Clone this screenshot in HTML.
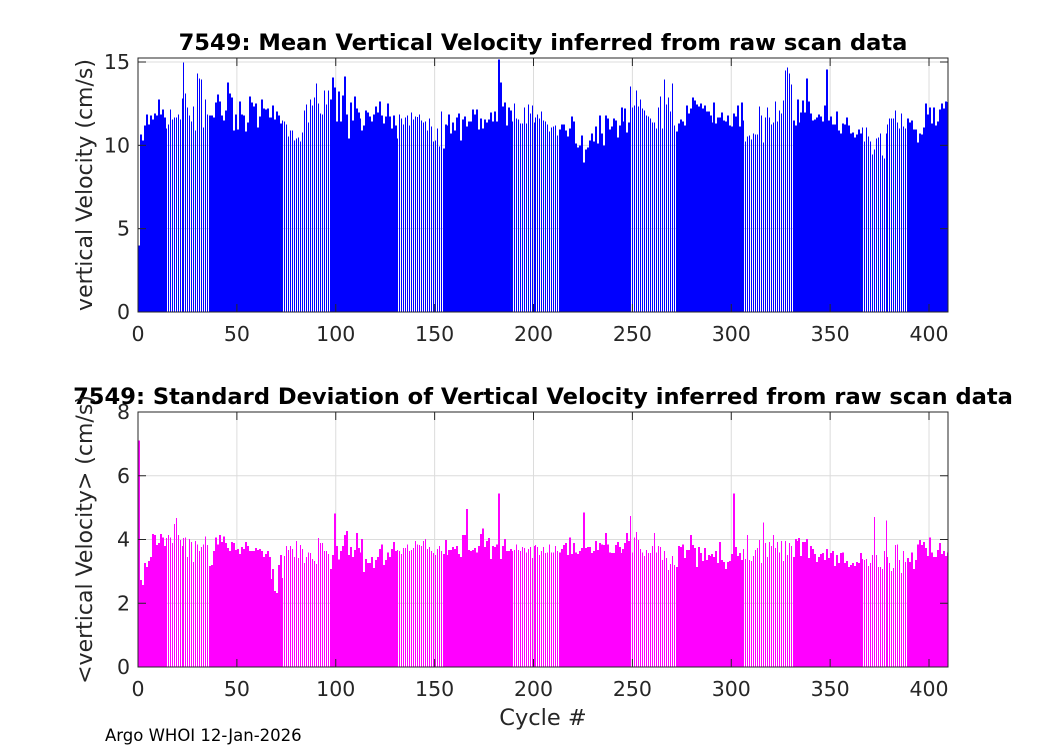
<!DOCTYPE html>
<html><head><meta charset="utf-8"><style>
body{margin:0;background:#fff;}
svg{display:block;font-family:"DejaVu Sans","Liberation Sans",sans-serif;}
</style></head><body>
<svg id="chart" width="1050" height="750" xmlns="http://www.w3.org/2000/svg">
<rect width="1050" height="750" fill="#fff"/>
<g id="top"></g>
<g id="bot"></g>
<text x="105" y="741" font-size="16.5" fill="#000">Argo WHOI 12-Jan-2026</text>
</svg>
<script>
const meanVel = [4.0,
10.66,10.3,11.2,11.86,11.26,11.8,11.56,11.92,11.8,12.76,
11.86,12.16,11.68,11.02,11.26,12.16,11.56,11.68,11.68,11.86,
11.56,12.82,14.98,13.12,12.28,11.8,11.44,12.34,10.9,14.32,
14.02,13.96,11.08,12.76,11.86,11.8,11.8,11.68,12.58,13.06,
12.64,11.8,11.5,12.1,13.78,13.12,12.88,10.9,11.86,10.96,
12.64,11.86,11.8,10.84,11.38,12.94,12.58,12.34,12.52,11.08,
11.74,12.76,12.22,12.16,12.22,11.68,11.68,12.4,11.56,12.04,
11.8,11.32,11.5,11.44,11.26,10.54,10.9,10.9,10.3,10.42,
10.48,10.24,10.78,12.1,12.46,11.38,12.76,12.4,12.88,13.72,
12.52,11.92,11.86,13.3,12.46,13.3,12.76,14.08,13.48,11.44,
13.24,11.44,13.0,14.14,11.86,10.42,12.58,11.5,12.94,12.22,
11.98,11.62,10.9,11.2,12.1,11.98,11.74,11.44,11.86,12.34,
11.98,12.64,11.8,11.32,11.74,12.52,11.74,11.02,11.8,11.2,
10.42,11.86,11.62,11.26,11.68,11.8,11.2,11.98,11.56,11.74,11.7,
11.86,11.5,11.38,11.44,10.9,11.62,11.14,10.24,10.3,11.02,
9.94,12.04,9.82,11.26,11.2,11.86,10.72,11.38,10.9,11.68,
11.92,10.3,11.56,11.74,11.14,11.44,11.44,12.16,11.86,12.16,
10.96,11.62,11.02,11.56,11.38,11.56,11.98,11.44,12.04,11.44,
15.16,13.78,12.34,12.58,11.2,12.28,12.1,11.44,12.52,11.62,
11.56,11.32,11.32,12.28,11.32,12.46,11.92,12.4,11.38,11.68,11.86,11.62,12.04,
11.5,11.44,11.26,10.84,11.08,11.14,11.2,10.6,10.96,11.26,
11.26,10.9,10.54,11.02,11.74,11.44,10.12,9.88,10.0,10.6,
8.98,9.76,9.88,10.3,10.72,10.24,11.14,10.12,11.8,10.72,
10.0,11.8,11.62,10.96,11.14,11.62,11.5,10.48,11.2,12.28,
11.44,12.22,10.78,11.38,13.54,12.28,12.4,13.3,12.34,12.76,
12.22,12.1,11.8,11.74,11.62,11.38,11.38,11.02,12.28,12.94,
11.02,13.96,12.46,12.88,12.04,13.72,11.2,10.84,11.32,11.56,
11.44,11.2,12.4,11.92,12.22,12.88,12.7,12.46,12.34,12.52,
12.22,12.4,12.04,12.04,11.8,11.38,12.58,11.32,11.68,11.68,
11.98,11.5,11.44,11.8,11.2,11.14,11.92,11.74,12.4,11.14,
12.58,11.5,10.24,10.54,
10.6,10.36,10.72,10.66,10.66,12.34,11.8,10.18,11.68,12.28,
11.68,11.26,11.38,12.64,11.44,12.1,11.92,12.7,14.5,14.68,
14.32,13.66,11.5,11.2,12.76,11.38,11.98,12.7,11.98,14.02,
12.64,11.92,11.5,11.56,11.68,11.86,11.74,11.44,12.4,14.56,
11.5,11.74,11.26,11.26,12.04,10.9,10.72,11.32,11.26,11.68,
11.2,10.72,10.78,10.48,10.66,10.96,10.72,11.08,10.24,11.08,
10.54,10.24,9.46,9.76,10.42,10.48,10.72,9.4,9.22,10.72,
11.26,11.62,11.62,11.62,12.1,11.38,11.02,11.92,11.14,11.02,
11.62,11.38,11.5,10.96,10.96,10.18,10.72,10.66,11.08,12.52,
11.86,12.28,11.32,12.28,11.2,11.44,12.16,12.52,12.22,12.64,12.6];
const stdVel = [7.1,
2.73,2.57,3.26,3.14,3.32,3.45,4.17,4.14,3.82,3.89,
4.17,4.07,3.79,4.04,4.14,4.07,3.89,4.48,4.67,4.14,
3.98,3.79,4.04,4.07,3.45,4.01,3.92,3.29,3.95,3.85,
3.64,3.76,3.85,4.10,3.82,3.17,3.20,3.64,4.07,3.85,
4.14,3.92,4.10,3.89,3.73,3.64,3.92,3.89,3.67,3.70,
3.54,3.76,3.70,3.92,3.79,3.64,3.64,3.64,3.73,3.67,
3.70,3.64,3.45,3.54,3.64,3.45,2.76,3.07,2.39,2.32,
3.20,3.51,2.79,3.48,3.79,3.67,3.79,3.70,3.45,3.95,
3.42,3.82,3.70,3.26,3.45,3.60,3.57,3.39,3.32,3.23,
4.04,3.89,3.89,3.64,3.64,3.54,3.07,3.51,4.82,3.79,
3.38,3.64,3.79,4.14,4.26,3.51,3.76,3.45,3.67,4.20,
3.73,3.60,4.01,2.98,3.39,3.26,3.26,3.45,3.10,3.35,
3.45,3.70,3.85,3.20,3.35,3.60,3.45,3.70,3.92,3.64,
3.67,3.64,3.54,3.73,3.73,3.85,3.64,3.67,3.73,3.95,
3.85,3.82,3.79,3.95,4.01,3.70,3.76,3.64,3.57,3.51,3.70,
3.79,3.64,3.54,3.98,3.51,3.67,3.67,3.76,3.70,3.79,
3.54,3.45,4.14,4.14,4.95,3.67,3.64,3.67,3.73,3.60,
3.79,4.17,4.35,3.76,3.95,4.04,3.39,3.79,3.76,3.85,
5.45,3.39,3.79,4.01,3.64,3.64,3.70,3.64,3.67,3.85,
3.67,3.64,3.76,3.73,3.60,3.70,3.76,3.42,3.79,3.82,
3.76,3.51,3.64,
3.76,3.57,3.60,3.85,3.60,3.60,3.79,3.64,3.60,3.70,
3.82,3.89,3.51,4.07,3.54,3.89,3.60,3.54,3.64,3.73,
4.85,3.73,3.76,3.76,3.57,3.64,3.95,3.67,3.89,3.85,
3.82,4.20,3.85,3.60,3.57,3.57,3.82,3.92,3.76,3.57,
3.70,3.89,4.20,3.95,4.73,3.60,4.07,4.23,3.98,3.70,3.60,
3.48,3.67,3.57,3.57,3.79,4.20,3.60,3.79,3.76,3.35,
3.64,3.42,3.04,3.23,3.48,3.20,3.14,3.79,3.76,3.85,
3.42,3.67,3.67,4.14,3.82,3.73,3.14,3.76,3.57,3.32,
3.73,3.35,3.51,3.48,3.54,3.45,3.64,3.26,3.92,3.35,
3.29,3.07,3.29,3.32,3.54,5.45,3.76,3.48,3.57,3.35,
3.70,3.39,4.14,3.35,
3.32,3.48,3.67,3.73,3.98,3.26,4.54,3.89,3.45,3.92,
3.79,4.14,3.73,3.92,3.60,3.95,3.32,3.95,3.51,3.89,
3.79,3.45,4.01,3.95,4.04,3.48,3.92,3.92,4.01,3.42,
3.79,3.70,3.54,3.29,3.45,3.54,3.57,3.35,3.70,3.42,
3.57,3.64,3.17,3.51,3.26,3.57,3.60,3.26,3.32,3.14,
3.20,3.26,3.17,3.29,3.26,3.57,3.39,3.35,3.39,3.17,
3.26,3.51,4.70,3.51,3.14,3.14,3.07,3.64,4.60,3.45,
3.26,3.01,3.10,3.82,3.85,3.35,2.95,3.64,3.29,3.42,
3.29,3.60,3.07,3.35,3.85,3.98,3.82,3.92,3.73,3.48,
4.07,3.60,3.45,3.45,3.67,3.89,3.54,3.64,3.48,3.60];
const stripedStarts = [14, 73, 131, 189, 249, 306, 366];
const stripedEnds   = [35, 96, 153, 212, 271, 330, 388];
const xTicks = [0,50,100,150,200,250,300,350,400];
const topYTicks = [0,5,10,15];
const botYTicks = [0,2,4,6,8];

const NS = 'http://www.w3.org/2000/svg';
const X0 = 138, X1 = 948, XMAX = 409.6;
const xs = c => X0 + c * (X1 - X0) / XMAX;
function mk(tag, attrs, parent){const e=document.createElementNS(NS,tag);for(const k in attrs)e.setAttribute(k,attrs[k]);parent.appendChild(e);return e;}
function striped(c){for(let i=0;i<stripedStarts.length;i++){if(c>=stripedStarts[i]&&c<=stripedEnds[i])return true;}return false;}

function panel(g, data, color, yTop, yBot, ymax, yTicks, title, ylabel, prefix){
  const ys = v => yBot - v * (yBot - yTop) / ymax;
  const clipId = prefix + '-clip';
  const cp = mk('clipPath',{id:clipId},g);
  mk('rect',{x:X0,y:yTop,width:X1-X0,height:yBot-yTop},cp);
  const grid = mk('g',{},g);
  
  
  xTicks.forEach(t=>{ if(t>0) mk('line',{x1:xs(t),x2:xs(t),y1:yTop,y2:yBot,stroke:'#dcdcdc','stroke-width':1},grid); });
  yTicks.forEach(t=>{ if(t>0) mk('line',{x1:X0,x2:X1,y1:ys(t),y2:ys(t),stroke:'#dcdcdc','stroke-width':1},grid); });
  const bars = mk('g',{'clip-path':'url(#'+clipId+')','shape-rendering':'crispEdges'},g);
  
  
  data.forEach((v,c)=>{
    const x = Math.round(xs(c));
    const w = striped(c) ? 1 : 2;
    const r = mk('rect',{x:x,y:ys(v),width:w,height:yBot-ys(v),fill:color},bars);
    
    
  });
  const ax = mk('g',{},g);
  
  
  mk('rect',{x:X0,y:yTop,width:X1-X0,height:yBot-yTop,fill:'none',stroke:'#262626','stroke-width':1},ax);
  xTicks.forEach(t=>{
    const x=xs(t);
    mk('line',{x1:x,x2:x,y1:yBot,y2:yBot-8,stroke:'#262626'},ax);
    mk('line',{x1:x,x2:x,y1:yTop,y2:yTop+8,stroke:'#262626'},ax);
    const tx = mk('text',{x:x,y:yBot+29,'font-size':20.5,'text-anchor':'middle',fill:'#262626'},ax);
    tx.textContent = t;
    
    
  });
  yTicks.forEach(t=>{
    const y=ys(t);
    mk('line',{x1:X0,x2:X0+8,y1:y,y2:y,stroke:'#262626'},ax);
    mk('line',{x1:X1,x2:X1-8,y1:y,y2:y,stroke:'#262626'},ax);
    const tx = mk('text',{x:X0-8,y:y+7,'font-size':20.5,'text-anchor':'end',fill:'#262626'},ax);
    tx.textContent = t;
    
    
  });
  const tt = mk('text',{x:543,y:yTop-8,'font-size':22.6,'font-weight':'bold','text-anchor':'middle',fill:'#000'},g);
  tt.textContent = title;
  
  
  const yl = mk('text',{x:0,y:0,'font-size':22,'text-anchor':'middle',fill:'#262626',transform:'translate(92,'+((yTop+yBot)/2)+') rotate(-90)'},g);
  yl.textContent = ylabel;
  
  
}
panel(document.getElementById('top'), meanVel, '#0000ff', 58, 312, 15.24, topYTicks,
  '7549: Mean Vertical Velocity inferred from raw scan data', 'vertical Velocity (cm/s)', 'mean');
panel(document.getElementById('bot'), stdVel, '#ff00ff', 412, 667, 8, botYTicks,
  '7549: Standard Deviation of Vertical Velocity inferred from raw scan data', '<vertical Velocity> (cm/s)', 'std');
const xl = mk('text',{x:543,y:725,'font-size':22.5,'text-anchor':'middle',fill:'#262626'},document.getElementById('bot'));
xl.textContent = 'Cycle #';


</script>
</body></html>
